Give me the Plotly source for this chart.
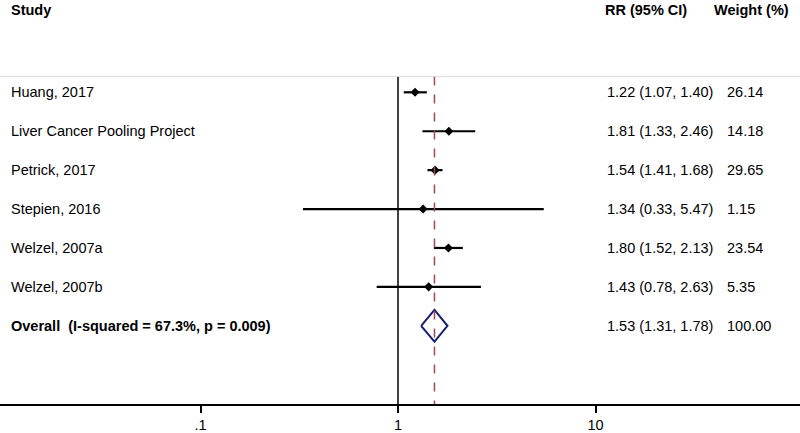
import plotly.graph_objects as go

studies = ["Huang, 2017", "Liver Cancer Pooling Project", "Petrick, 2017",
           "Stepien, 2016", "Welzel, 2007a", "Welzel, 2007b"]
rr = [1.22, 1.81, 1.54, 1.34, 1.80, 1.43]
lo = [1.07, 1.33, 1.41, 0.33, 1.52, 0.78]
hi = [1.40, 2.46, 1.68, 5.47, 2.13, 2.63]
weights = ["26.14", "14.18", "29.65", "1.15", "23.54", "5.35"]

overall_label = "Overall  (I-squared = 67.3%, p = 0.009)"
overall_rr, overall_lo, overall_hi = 1.53, 1.31, 1.78
overall_weight = "100.00"

x_ticks = [0.1, 1, 10]
x_tick_labels = [".1", "1", "10"]

W, H = 800, 433
ROW0 = 93.0      # pixel y of first row
ROWH = 39.2      # pixel spacing between rows
AXIS_Y = 407.0   # pixel y of x axis line
X1 = 398.0       # pixel x of value 1
DEC = 197.5      # pixels per decade

def prow(p):
    return (p - ROW0) / ROWH

y_top = prow(0)
y_bot = prow(AXIS_Y)
x_lo = (0 - X1) / DEC
x_hi = (W - X1) / DEC

FONT = "Liberation Sans, Arial, sans-serif"
FS = 14.5

fig = go.Figure()

rows = list(range(len(studies)))
overall_row = len(studies)

# CI lines
for i in rows:
    fig.add_trace(go.Scatter(x=[lo[i], hi[i]], y=[i, i], mode="lines",
                             line=dict(color="black", width=2.2),
                             hoverinfo="skip", showlegend=False))
# point estimates
fig.add_trace(go.Scatter(x=rr, y=rows, mode="markers",
                         marker=dict(symbol="diamond", size=7, color="black"),
                         showlegend=False))

# overall diamond
dh = 16 / ROWH
fig.add_trace(go.Scatter(
    x=[overall_lo, overall_rr, overall_hi, overall_rr, overall_lo],
    y=[overall_row, overall_row - dh, overall_row, overall_row + dh, overall_row],
    mode="lines", line=dict(color="#1a1f6e", width=2),
    hoverinfo="skip", showlegend=False))

top_line = prow(77)
# reference lines
fig.add_shape(type="line", xref="x", yref="y", x0=1, x1=1, y0=top_line, y1=y_bot,
              line=dict(color="black", width=1.5))
fig.add_shape(type="line", xref="x", yref="y", x0=overall_rr, x1=overall_rr,
              y0=top_line, y1=y_bot,
              line=dict(color="#9a4a56", width=1.5, dash="dash"))
fig.add_shape(type="line", xref="paper", yref="y", x0=0, x1=1, y0=top_line, y1=top_line,
              line=dict(color="#dcdcdc", width=1))

ann = []
def txt(x, y, s, bold=False):
    ann.append(dict(x=x / W, y=y, xref="paper", yref="y", text=("<b>%s</b>" % s) if bold else s,
                    showarrow=False, xanchor="left", yanchor="middle",
                    font=dict(family=FONT, size=FS, color="black")))

hdr = prow(10)
txt(9, hdr, "Study", True)
txt(603, hdr, "RR (95% CI)", True)
txt(712, hdr, "Weight (%)", True)

for i in rows:
    txt(9, i, studies[i])
    txt(605, i, "%.2f (%.2f, %.2f)" % (rr[i], lo[i], hi[i]))
    txt(725, i, weights[i])
txt(9, overall_row, overall_label, True)
txt(605, overall_row, "%.2f (%.2f, %.2f)" % (overall_rr, overall_lo, overall_hi))
txt(725, overall_row, overall_weight)

fig.update_layout(
    width=W, height=H,
    margin=dict(l=0, r=0, t=0, b=H - AXIS_Y),
    plot_bgcolor="white", paper_bgcolor="white",
    annotations=ann,
    xaxis=dict(type="log", range=[x_lo, x_hi], tickvals=x_ticks, ticktext=x_tick_labels,
               ticks="outside", ticklen=7, tickwidth=1.5, tickcolor="black",
               showline=True, linecolor="black", linewidth=1.5,
               showgrid=False, zeroline=False,
               tickfont=dict(family=FONT, size=FS, color="black")),
    yaxis=dict(range=[y_bot, y_top], visible=False, showgrid=False, zeroline=False),
)

fig.write_html("out.html", config={"displayModeBar": False},
               post_script="document.body.style.margin='0';document.body.style.overflow='hidden';")
